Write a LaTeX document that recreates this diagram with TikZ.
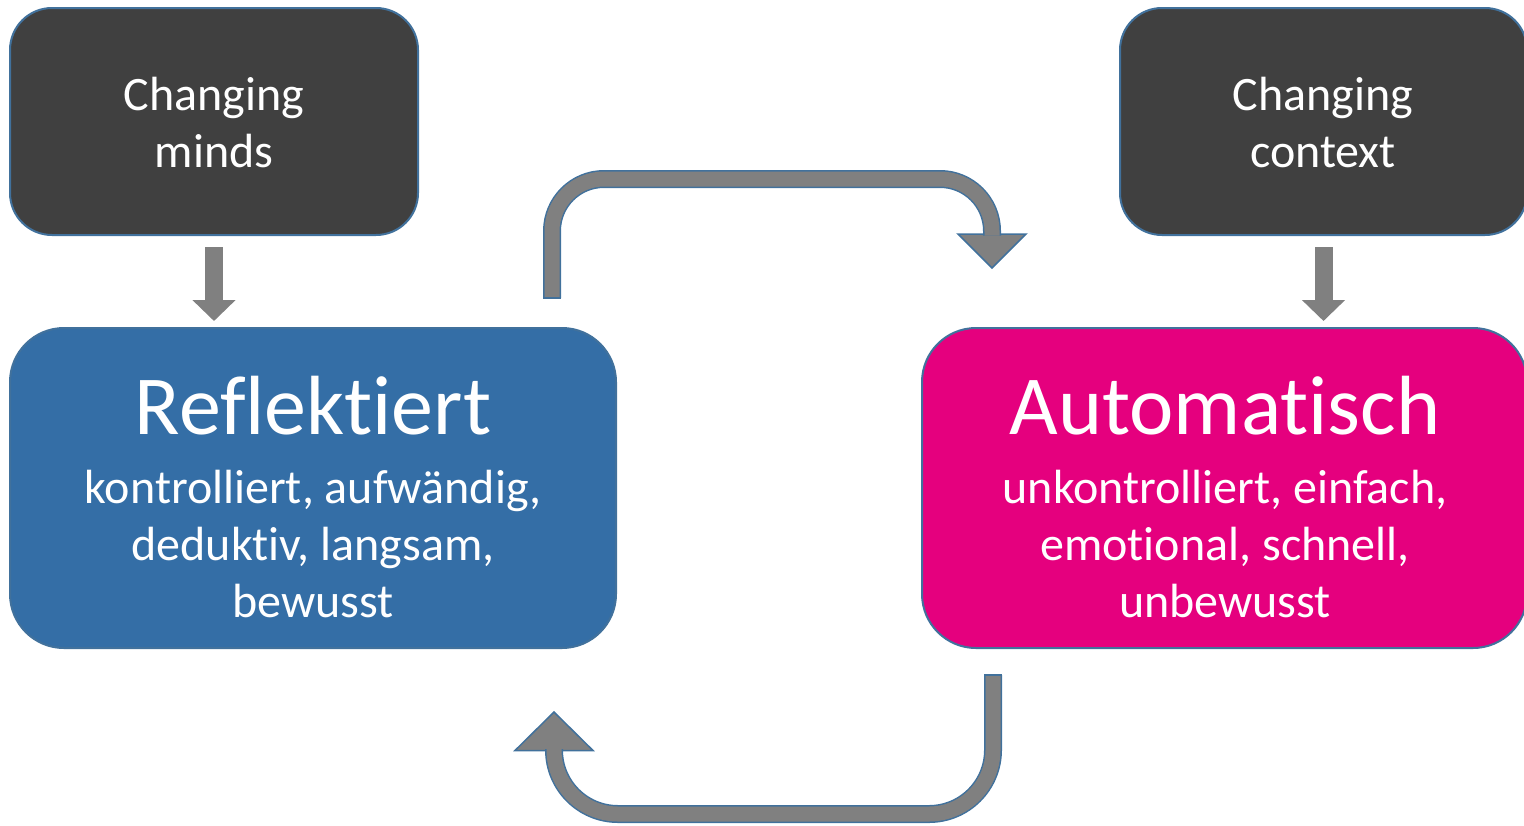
\documentclass[tikz,border=0pt]{standalone}
\usepackage{fontspec}
\setmainfont{Carlito}[Ligatures={NoCommon,NoContextual}]
\usetikzlibrary{arrows.meta}
\definecolor{darkbox}{RGB}{64,64,64}
\definecolor{bluebox}{RGB}{52,110,166}
\definecolor{magbox}{RGB}{229,0,126}
\definecolor{edgeblue}{RGB}{65,113,156}
\definecolor{arrgray}{RGB}{128,128,128}
\begin{document}
\begin{tikzpicture}[x=0.5pt,y=-0.5pt,
  topbox/.style={draw=edgeblue, line width=1pt, fill=darkbox, rounded corners=21pt,
    minimum width=204pt, minimum height=113.5pt, inner sep=0pt},
  mainbox/.style={draw=edgeblue, line width=1pt, fill=#1, rounded corners=27pt,
    minimum width=303pt, minimum height=160pt, inner sep=0pt},
  smalltxt/.style={text=white, anchor=base, inner sep=0pt, font=\fontsize{24}{28.5}\selectfont},
  bigtxt/.style={text=white, anchor=base, inner sep=0pt, font=\fontsize{42}{50}\selectfont},
  downarr/.style={draw=arrgray, line width=9pt, -{Triangle[width=21pt,length=10.5pt]}},
  bentarr/.style={draw=edgeblue, line width=0.75pt, double=arrgray, double distance=7.5pt},
  headtri/.style={fill=arrgray, draw=edgeblue, line width=0.75pt, line join=miter},
  endcap/.style={draw=edgeblue, line width=0.75pt}
]
\clip (0,0) rectangle (1524,825);

% top boxes
\node[topbox] (minds) at (214,121.5) {};
\node[topbox, minimum width=203.5pt] (ctx) at (1323.5,121.5) {};
\node[smalltxt] (minds1) at (214,110) {Changing};
\node[smalltxt] (minds2) at (214,167) {minds};
\node[smalltxt] (ctx1) at (1323,110) {Changing};
\node[smalltxt] (ctx2) at (1323,167) {context};

% main boxes
\node[mainbox=bluebox] (refl) at (313,488) {};
\node[mainbox=magbox, minimum width=302.5pt] (auto) at (1224.5,488) {};
\node[bigtxt] (refl0) at (313,434) {Reflektiert};
\node[smalltxt] (refl1) at (313,503) {kontrolliert, aufwändig,};
\node[smalltxt] (refl2) at (313,560) {deduktiv, langsam,};
\node[smalltxt] (refl3) at (313,617) {bewusst};
\node[bigtxt] (auto0) at (1225,434) {Automatisch};
\node[smalltxt] (auto1) at (1225,503) {unkontrolliert, einfach,};
\node[smalltxt] (auto2) at (1225,560) {emotional, schnell,};
\node[smalltxt] (auto3) at (1225,617) {unbewusst};

% small down arrows
\coordinate (rtop) at (refl.north -| minds.south);
\coordinate (atop) at (auto.north -| ctx.south);
\draw[downarr] ([yshift=-5.5pt]minds.south) -- ([yshift=3pt]rtop);
\draw[downarr] ([yshift=-5.5pt]ctx.south) -- ([yshift=3pt]atop);

% top bent arrow: Reflektiert -> Automatisch
\coordinate (t0) at (552,298);
\coordinate (tmid) at (772,179);
\coordinate (t1) at (992,235.5);
\filldraw[headtri] (958,234) -- (1026,234) -- (992,268) -- cycle;
\draw[bentarr, rounded corners=26pt] (t0) |- (tmid) -| (t1);
\draw[endcap] ([xshift=-4.5pt]t0) -- ([xshift=4.5pt]t0);

% bottom bent arrow: Automatisch -> Reflektiert
\coordinate (b0) at (993,675);
\coordinate (bmid) at (773,814);
\coordinate (b1) at (554,749);
\filldraw[headtri] (515,750.5) -- (593,750.5) -- (554,712) -- cycle;
\draw[bentarr, rounded corners=32pt] (b0) |- (bmid) -| (b1);
\draw[endcap] ([xshift=-4.5pt]b0) -- ([xshift=4.5pt]b0);
\end{tikzpicture}
\end{document}
